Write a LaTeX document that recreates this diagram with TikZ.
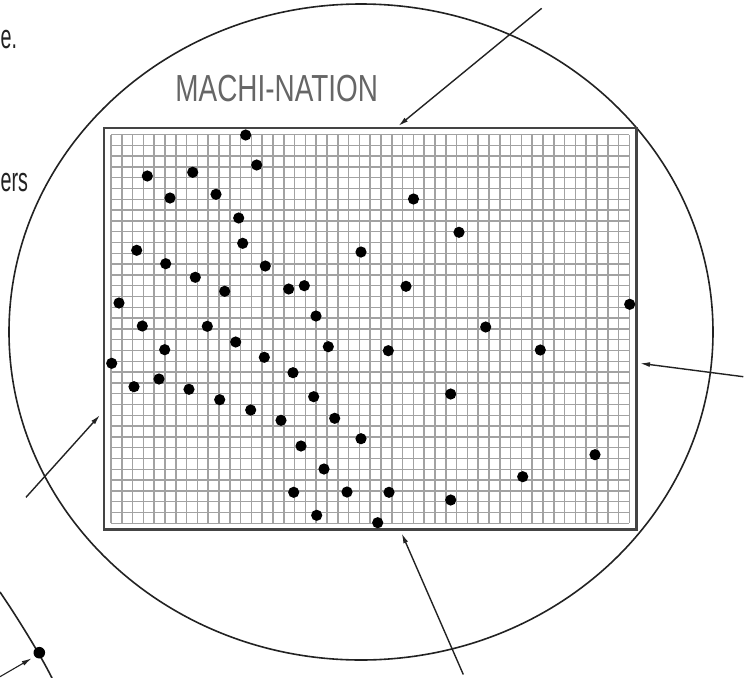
\documentclass[tikz,border=0pt]{standalone}
\usepackage{fontspec}
\setmainfont{Liberation Sans}
\usepackage{xcolor}
\usetikzlibrary{positioning,arrows.meta}

\definecolor{ink}{HTML}{222222}
\definecolor{framegray}{HTML}{444444}
\definecolor{gridgray}{HTML}{A2A2A2}
\definecolor{titlegray}{HTML}{666666}

\tikzset{
  gridline/.style={draw=gridgray, line width=1.45pt},
  board/.style={draw=framegray, line width=2.4pt, inner sep=0pt, minimum width=532.5pt, minimum height=401.5pt},
  dot/.style={fill=black},
  edgetext/.style={text=ink, inner sep=0pt, xscale=0.58, font=\fontsize{34}{36}\selectfont}
}

\begin{document}
\begin{tikzpicture}[x=1pt, y=-1pt, >={Latex[length=10pt,width=5pt]}]
\useasboundingbox (0,0) rectangle (756,678);

% outer ring
\draw[ink, line width=1.6pt] (361,332) ellipse [x radius=352pt, y radius=328pt];
\draw[ink, line width=1.6pt] (0,592) .. controls (17,617) and (40,654) .. (52,678);

% texts at the page edge
\node[edgetext, anchor=base west] (tailA) at (0.5,48) {e.};
\node[edgetext, anchor=base west] (tailB) at (0.5,191.5) {ers};

% title
\node[text=titlegray, inner sep=0pt, xscale=0.74, font=\fontsize{37.7}{40}\selectfont] (title) at (276.7,88.9) {MACHI-NATION};

% grid
\foreach \i in {0,...,48}
  \draw[gridline] (111+\i*10.8,134.5) -- (111+\i*10.8,523.3);
\foreach \j in {0,...,36}
  \draw[gridline] (111,134.5+\j*10.8) -- (629.4,134.5+\j*10.8);
\node[board] (board) at (370.25,328.75) {};

% points
\foreach \px/\py in {245.7/135,256.7/165,147.3/176,192.7/172.3,170/198,216/194.3,
    238.7/218,413.5/199,459/232.3,242.7/243.3,136.7/250.3,361/252,165.7/263.7,
    265.3/266,195.3/277.3,224.7/291.3,288.7/289,304.3/285.7,406/286.3,119/303,
    629.7/304.3,316/316,142.3/326,207.3/326.3,485.7/327,235.7/342,328.3/346.7,
    164.7/349.7,388.3/350.7,540.3/350,264.3/357.3,111.7/363.3,293/372.7,
    134/386.7,159/379,189/389.3,219.7/399.7,313.7/396.7,450.7/394,250.7/410,
    334.7/418.3,281/420.3,361/438.7,301/446,324/469,595/454.7,522.7/476.7,
    293.7/492.3,347/492,389/492.3,450.7/500,316.7/515.3,377.7/522.7}
  \fill[dot] (\px,\py) circle [radius=5.6pt];
\fill[dot] (39.3,652.7) circle [radius=5.8pt];

% pointers
\coordinate (nTail) at (541.7,8.3);
\coordinate (nTip) at (398.3,126);
\coordinate (eTail) at (743.3,376.7);
\coordinate (eTip) at (640,363.3);
\coordinate (sTail) at (463.3,674.5);
\coordinate (sTip) at (401.7,533.3);
\coordinate (wTail) at (26,497.3);
\coordinate (wTip) at (100,415);
\coordinate (cTail) at (0,676.7);
\coordinate (cTip) at (31.7,658.3);
\draw[->, ink, line width=1.4pt] (nTail) -- (nTip);
\draw[->, ink, line width=1.4pt] (eTail) -- (eTip);
\draw[->, ink, line width=1.4pt] (sTail) -- (sTip);
\draw[->, ink, line width=1.4pt] (wTail) -- (wTip);
\draw[->, ink, line width=1.1pt] (cTail) -- (cTip);
\end{tikzpicture}
\end{document}
